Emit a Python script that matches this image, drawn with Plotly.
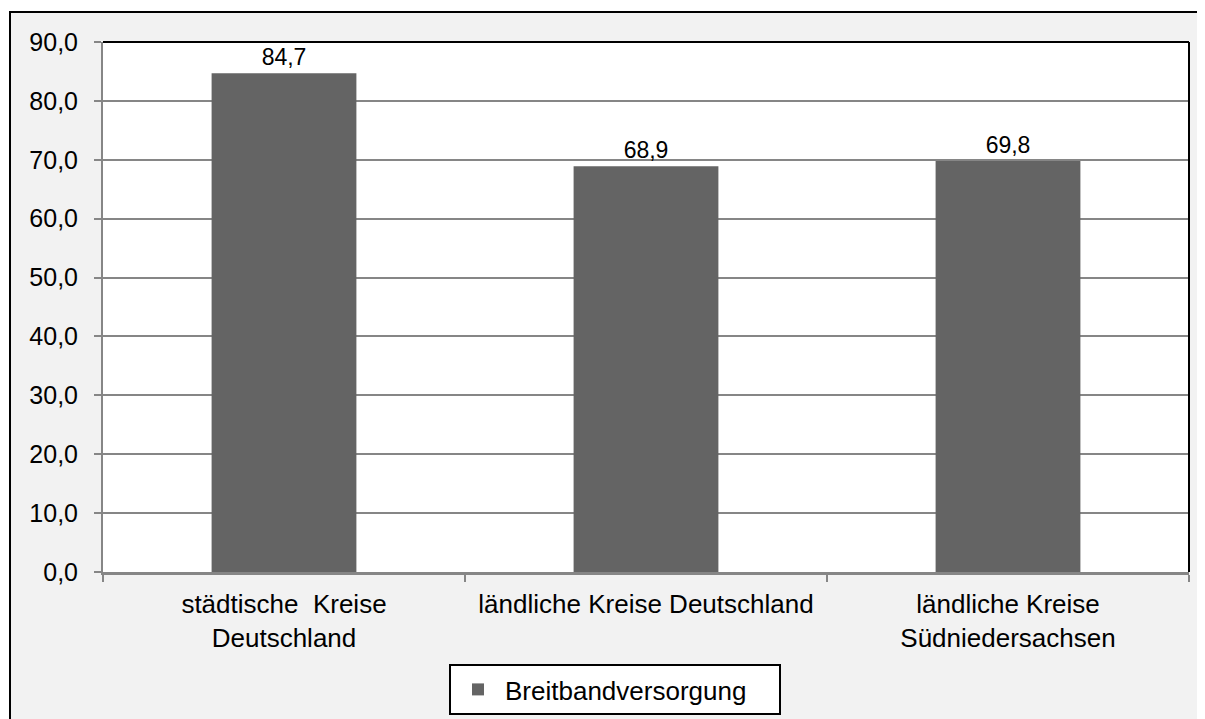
import plotly.graph_objects as go

categories = ["städtische  Kreise<br>Deutschland", "ländliche Kreise Deutschland", "ländliche Kreise<br>Südniedersachsen"]
values = [84.7, 68.9, 69.8]
series_name = "Breitbandversorgung"
y_ticks = [0, 10, 20, 30, 40, 50, 60, 70, 80, 90]

# page body has an 8px margin; figure coordinates = screen - 8
OFF = 8
W, H = 1205 - OFF, 719 - OFF
L, T = 103 - OFF, 42 - OFF
R = W - (1189 - OFF)
B = H - (572 - OFF)
pw, ph = W - L - R, H - T - B

def px(x):
    return (x - OFF - L) / pw

def py(y):
    return (H - B - (y - OFF)) / ph

FONT = "Liberation Sans, Arial, sans-serif"
GRID = "#868686"

fig = go.Figure()
fig.add_trace(go.Bar(
    x=categories, y=values, name=series_name,
    marker=dict(color="#646464", line=dict(width=0)),
    texttemplate="%{y:.1f}", textposition="outside",
    textfont=dict(family=FONT, size=23, color="black"),
    cliponaxis=False,
))

fig.update_layout(
    width=W, height=H,
    margin=dict(l=L, r=R, t=T, b=B, pad=0, autoexpand=False),
    paper_bgcolor="white", plot_bgcolor="white",
    separators=",.",
    bargap=0.6,
    showlegend=True,
    font=dict(family=FONT, size=25, color="black"),
    legend=dict(
        x=px(449), y=py(664), xanchor="left", yanchor="top",
        orientation="h", bgcolor="white", bordercolor="black", borderwidth=2,
        itemwidth=44, entrywidth=269, entrywidthmode="pixels",
        font=dict(family=FONT, size=26, color="black"),
    ),
    xaxis=dict(
        range=[-0.5, 2.5], showline=True, linecolor=GRID, linewidth=3,
        ticks="outside", tickson="boundaries", ticklen=7, tickcolor=GRID, tickwidth=2,
        showgrid=False, tickfont=dict(family=FONT, size=26, color="black"),
        ticklabelstandoff=7,
    ),
    yaxis=dict(
        range=[0, 90], tickvals=y_ticks, tickformat=".1f",
        showline=True, linecolor=GRID, linewidth=2,
        ticks="outside", ticklen=7, tickcolor=GRID, tickwidth=2,
        showgrid=True, gridcolor=GRID, gridwidth=1.5,
        zeroline=False, tickfont=dict(family=FONT, size=25, color="black"),
        ticklabelstandoff=11,
    ),
    shapes=[
        dict(type="rect", xref="paper", yref="paper", layer="below",
             x0=px(10), x1=px(1225), y0=py(740), y1=py(12),
             fillcolor="#f2f2f2", line=dict(color="black", width=2)),
        dict(type="rect", xref="paper", yref="paper", layer="below",
             x0=0, x1=1, y0=0, y1=1, fillcolor="white", line=dict(width=0)),
        dict(type="line", xref="paper", yref="paper", layer="above",
             x0=0, x1=1, y0=1, y1=1, line=dict(color="black", width=2)),
        dict(type="line", xref="paper", yref="paper", layer="above",
             x0=1, x1=1, y0=0, y1=1, line=dict(color="black", width=2)),
    ],
)

fig.write_html("out.html")
